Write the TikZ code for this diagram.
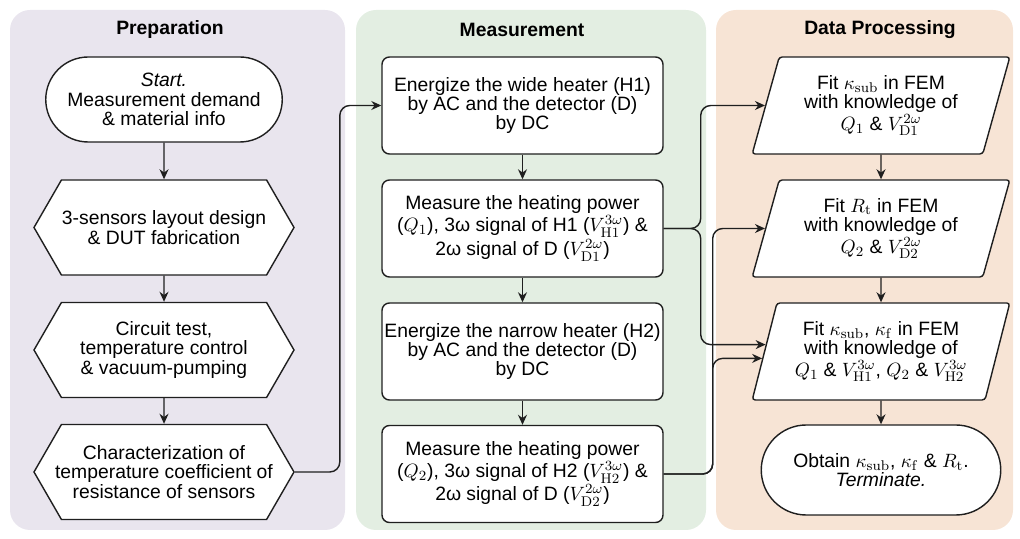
\documentclass[tikz,border=0pt]{standalone}
\usepackage[no-math]{fontspec}
\setmainfont{Liberation Sans}
\usepackage{amsmath}
\usepackage{tikz}
\usetikzlibrary{
  positioning, arrows.meta, shapes.geometric, shapes.misc, shapes.symbols, calc,
}
\definecolor{prepBand}{HTML}{E9E5EE}
\definecolor{measBand}{HTML}{E3EEE2}
\definecolor{procBand}{HTML}{F7E4D5}
\definecolor{cInk}    {HTML}{1F1F1F}

\begin{document}
\begin{tikzpicture}[
    font=\fontsize{11}{11}\selectfont,
    band/.style={rounded corners=4mm},
    head/.style={font=\bfseries\fontsize{11}{11}\selectfont},
    term/.style={draw=cInk, fill=white, line width=0.8pt, rounded rectangle,
      align=center, minimum width=48mm, minimum height=17mm, inner sep=1pt},
    prepbox/.style={draw=cInk, fill=white, line width=0.8pt, signal,
      signal to=west and east, signal pointer angle=120, align=center,
      minimum width=52mm, minimum height=19mm, inner ysep=1pt, inner xsep=-1.8mm},
    measbox/.style={draw=cInk, fill=white, line width=0.8pt, rounded corners=1.5mm,
      align=center, minimum width=56.2mm, minimum height=19.4mm, inner sep=1pt},
    fitbox/.style={draw=cInk, fill=white, line width=0.8pt, rounded corners=0.6mm,
      trapezium, trapezium left angle=72, trapezium right angle=108,
      trapezium stretches=true, align=center,
      minimum width=51.6mm, minimum height=19.4mm, inner sep=1pt},
    flow/.style={-{Stealth[length=2mm, width=1.8mm]}, line width=0.8pt, draw=cInk,
      rounded corners=2mm},
  ]
  \useasboundingbox (0,0) rectangle (204mm,-107.8mm);

  % column bands
  \fill[prepBand, band] (2mm,-2mm) rectangle (69mm,-106mm);
  \fill[measBand, band] (71.2mm,-2mm) rectangle (141.2mm,-106mm);
  \fill[procBand, band] (143.2mm,-2mm) rectangle (202.6mm,-106mm);

  \node[head] (tprep) at (34mm,-6mm) {Preparation};
  \node[head] (tmeas) at (104.4mm,-6mm) {Measurement};
  \node[head] (tproc) at (176mm,-6mm) {Data Processing};

  % preparation
  \node[term] (st) at (32.8mm,-19.9mm) {\textit{Start.}\\Measurement demand\\\& material info};
  \node[prepbox] (lay) at (32.8mm,-45.5mm) {3-sensors layout design\\\& DUT fabrication};
  \node[prepbox] (ckt) at (32.8mm,-70mm) {Circuit test,\\temperature control\\\& vacuum-pumping};
  \node[prepbox] (tcr) at (32.8mm,-94.4mm) {Characterization of\\temperature coefficient of\\resistance of sensors};

  % measurement
  \node[measbox] (eh1) at (104.5mm,-21.1mm) {Energize the wide heater (H1)\\by AC and the detector (D)\\by DC};
  \node[measbox] (mq1) at (104.5mm,-45.7mm) {Measure the heating power\\($Q_1$), 3ω signal of H1 ($V^{3\omega}_{\mathrm{H1}}$) \&\\2ω signal of D ($V^{2\omega}_{\mathrm{D1}}$)};
  \node[measbox] (eh2) at (104.5mm,-70.3mm) {Energize the narrow heater (H2)\\by AC and the detector (D)\\by DC};
  \node[measbox] (mq2) at (104.5mm,-94.8mm) {Measure the heating power\\($Q_2$), 3ω signal of H2 ($V^{3\omega}_{\mathrm{H2}}$) \&\\2ω signal of D ($V^{2\omega}_{\mathrm{D2}}$)};

  % data processing
  \node[fitbox] (fks) at (176.2mm,-21.1mm) {Fit $\kappa_{\mathrm{sub}}$ in FEM\\with knowledge of\\$Q_1$ \& $V^{2\omega}_{\mathrm{D1}}$};
  \node[fitbox] (frt) at (176.2mm,-45.7mm) {Fit $R_{\mathrm{t}}$ in FEM\\with knowledge of\\$Q_2$ \& $V^{2\omega}_{\mathrm{D2}}$};
  \node[fitbox] (fkf) at (176.2mm,-70.3mm) {Fit $\kappa_{\mathrm{sub}}$, $\kappa_{\mathrm{f}}$ in FEM\\with knowledge of\\$Q_1$ \& $V^{3\omega}_{\mathrm{H1}}$, $Q_2$ \& $V^{3\omega}_{\mathrm{H2}}$};
  \node[term, minimum width=48.6mm, minimum height=18mm] (fin) at (176.2mm,-94mm) {Obtain $\kappa_{\mathrm{sub}}$, $\kappa_{\mathrm{f}}$ \& $R_{\mathrm{t}}$.\\\textit{Terminate.}};

  \foreach \a/\b in {st/lay, lay/ckt, ckt/tcr, eh1/mq1, mq1/eh2, eh2/mq2, fks/frt, frt/fkf, fkf/fin}
    \draw[flow] (\a) -- (\b);

  \draw[flow] (tcr.east) -- ++(9mm,0) |- (eh1.west);
  \draw[flow] (mq1.east) -- ++(7.4mm,0) |- (fks.west);
  \draw[flow] (mq1.east) -- ++(7.4mm,0) |- ($(fkf.bottom left corner)!0.57!(fkf.top left corner)$);
  \draw[flow] (mq2.east) -- ++(9.8mm,0) |- (frt.west);
  \draw[flow] (mq2.east) -- ++(9.8mm,0) |- ($(fkf.bottom left corner)!0.43!(fkf.top left corner)$);
\end{tikzpicture}
\end{document}
